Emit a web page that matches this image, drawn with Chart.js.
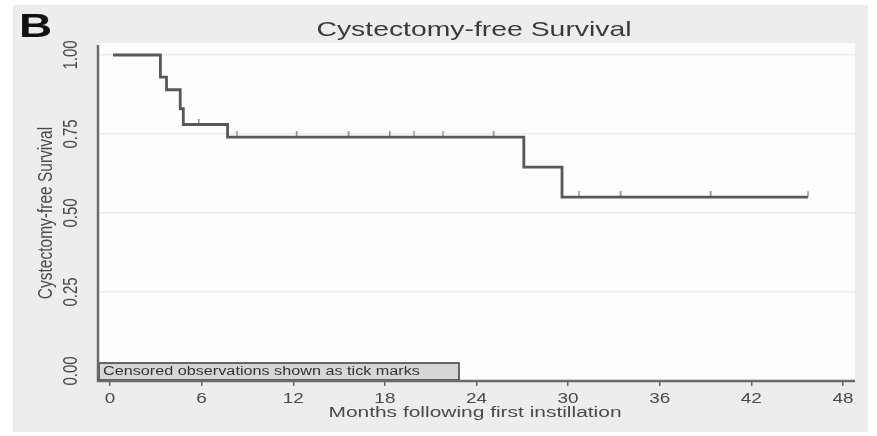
<!DOCTYPE html>
<html>
<head>
<meta charset="utf-8">
<script src="https://cdn.jsdelivr.net/npm/chart.js@4"></script>
<style>
  html, body { margin: 0; padding: 0; background: #ffffff; }
  #wrap { width: 877px; height: 436px; }
</style>
</head>
<body>
<div id="wrap"><canvas id="km" width="877" height="436"></canvas></div>
<script>
// Kaplan-Meier estimate: month of each step and the survival after it
const eventMonths = [0.2, 3.3, 3.7, 4.6, 4.8, 7.7, 27.1, 29.6, 45.7];
const survival    = [1.00, 0.93, 0.89, 0.83, 0.78, 0.74, 0.645, 0.55, 0.55];

// Censored observations (drawn as tick marks on the curve)
const censorMonths   = [5.8, 8.3, 12.2, 15.6, 18.3, 19.9, 21.8, 25.1, 30.7, 33.4, 39.3, 45.7];
const censorSurvival = [0.78, 0.74, 0.74, 0.74, 0.74, 0.74, 0.74, 0.74, 0.55, 0.55, 0.55, 0.55];

// Axis ticks
const xTicks = [0, 6, 12, 18, 24, 30, 36, 42, 48];
const yTicks = [0, 0.25, 0.5, 0.75, 1.0];

const panelLabel = 'B';
const chartTitle = 'Cystectomy-free Survival';
const yTitle = 'Cystectomy-free Survival';
const xTitle = 'Months following first instillation';
const noteText = 'Censored observations shown as tick marks';

const FONT = '"Liberation Sans", Arial, sans-serif';
const WIDE = 1.35; // horizontal stretch of the lettering

// small upward tick used as the censoring marker
const tickMark = document.createElement('canvas');
tickMark.width = 3; tickMark.height = 12;
(function () {
  const c = tickMark.getContext('2d');
  c.fillStyle = '#8a8a8a';
  c.fillRect(1, 0, 1.5, 6);
})();

const curvePoints = eventMonths.map((m, i) => ({ x: m, y: survival[i] }));
const censorPoints = censorMonths.map((m, i) => ({ x: m, y: censorSurvival[i] }));

// horizontal text, widened by WIDE
function wideText(ctx, text, x, y, font, color, align) {
  ctx.save();
  ctx.font = font;
  ctx.fillStyle = color;
  ctx.textBaseline = 'middle';
  ctx.textAlign = align || 'center';
  ctx.translate(x, y);
  ctx.scale(WIDE, 1);
  ctx.fillText(text, 0, 0);
  ctx.restore();
}

// vertical text (reads bottom to top), thickened along screen x by WIDE
function upText(ctx, text, x, y, font, color) {
  ctx.save();
  ctx.font = font;
  ctx.fillStyle = color;
  ctx.textBaseline = 'middle';
  ctx.textAlign = 'center';
  ctx.translate(x, y);
  ctx.rotate(-Math.PI / 2);
  ctx.scale(1, WIDE);
  ctx.fillText(text, 0, 0);
  ctx.restore();
}

const decor = {
  id: 'decor',
  beforeDraw(chart) {
    const { ctx, chartArea: a } = chart;
    ctx.save();
    ctx.fillStyle = '#ffffff';
    ctx.fillRect(0, 0, chart.width, chart.height);
    ctx.fillStyle = '#ededed';
    ctx.fillRect(13, 5, 855, 427);
    ctx.fillStyle = '#fdfdfd';
    ctx.fillRect(a.left, a.top, a.right - a.left, a.bottom - a.top);
    ctx.restore();
  },
  afterDraw(chart) {
    const { ctx, chartArea: a, scales } = chart;
    const xs = scales.x, ys = scales.y;

    wideText(ctx, panelLabel, 19, 28, 'bold 34px ' + FONT, '#111', 'left');
    wideText(ctx, chartTitle, 474, 30, '21px ' + FONT, '#3a3a3a');

    ys.ticks.forEach(t => {
      upText(ctx, t.value.toFixed(2), 71, ys.getPixelForValue(t.value), '15px ' + FONT, '#4a4a4a');
    });
    upText(ctx, yTitle, 46, 213, '15.5px ' + FONT, '#4a4a4a');

    xs.ticks.forEach(t => {
      wideText(ctx, String(t.value), xs.getPixelForValue(t.value), 399, '14px ' + FONT, '#4a4a4a');
    });
    wideText(ctx, xTitle, 475, 413, '15.5px ' + FONT, '#4a4a4a');

    // note box at the bottom of the plot
    ctx.save();
    const bx = a.left + 1, by = 363, bw = 458 - a.left, bh = a.bottom - 363;
    ctx.fillStyle = '#d6d6d6';
    ctx.fillRect(bx, by, bw, bh);
    ctx.strokeStyle = '#3a3a3a';
    ctx.lineWidth = 1.5;
    ctx.strokeRect(bx, by, bw, bh);
    ctx.restore();
    wideText(ctx, noteText, bx + 4, by + bh / 2 + 0.5, '12px ' + FONT, '#333', 'left');

    // axis lines
    ctx.save();
    ctx.strokeStyle = '#6a6a6a';
    ctx.lineWidth = 2.5;
    ctx.beginPath();
    ctx.moveTo(a.left, a.top + 2);
    ctx.lineTo(a.left, a.bottom + 1);
    ctx.lineTo(a.right, a.bottom + 1);
    ctx.stroke();
    ctx.restore();
  }
};

new Chart(document.getElementById('km'), {
  type: 'line',
  data: {
    datasets: [
      {
        label: 'Cystectomy-free survival',
        data: curvePoints,
        stepped: 'before',
        borderColor: '#585858',
        borderWidth: 2.8,
        pointRadius: 0,
        fill: false,
        order: 1
      },
      {
        label: 'Censored',
        data: censorPoints,
        showLine: false,
        pointStyle: tickMark,
        pointRadius: 4,
        order: 2
      }
    ]
  },
  options: {
    responsive: false,
    animation: false,
    devicePixelRatio: 1,
    layout: { padding: { left: 0, right: 22, top: 43, bottom: 0 } },
    plugins: {
      legend: { display: false },
      title: { display: false },
      tooltip: { enabled: false }
    },
    scales: {
      x: {
        type: 'linear',
        min: -0.786,
        max: 48.786,
        afterBuildTicks: s => { s.ticks = xTicks.map(v => ({ value: v })); },
        afterFit: s => { s.height = 56; },
        grid: { display: true, drawOnChartArea: false, drawTicks: true, tickLength: 6, color: '#666', lineWidth: 1.5 },
        border: { display: false },
        ticks: { display: false }
      },
      y: {
        type: 'linear',
        min: -0.0285,
        max: 1.038,
        afterBuildTicks: s => { s.ticks = yTicks.map(v => ({ value: v })); },
        afterFit: s => { s.width = 98; },
        grid: {
          display: true,
          drawTicks: true,
          tickLength: 6,
          color: ctx => (ctx.tick && ctx.tick.value === 0) ? 'rgba(0,0,0,0)' : '#ececec',
          lineWidth: 1.5
        },
        border: { display: false },
        ticks: { display: false }
      }
    }
  },
  plugins: [decor]
});
</script>
</body>
</html>
